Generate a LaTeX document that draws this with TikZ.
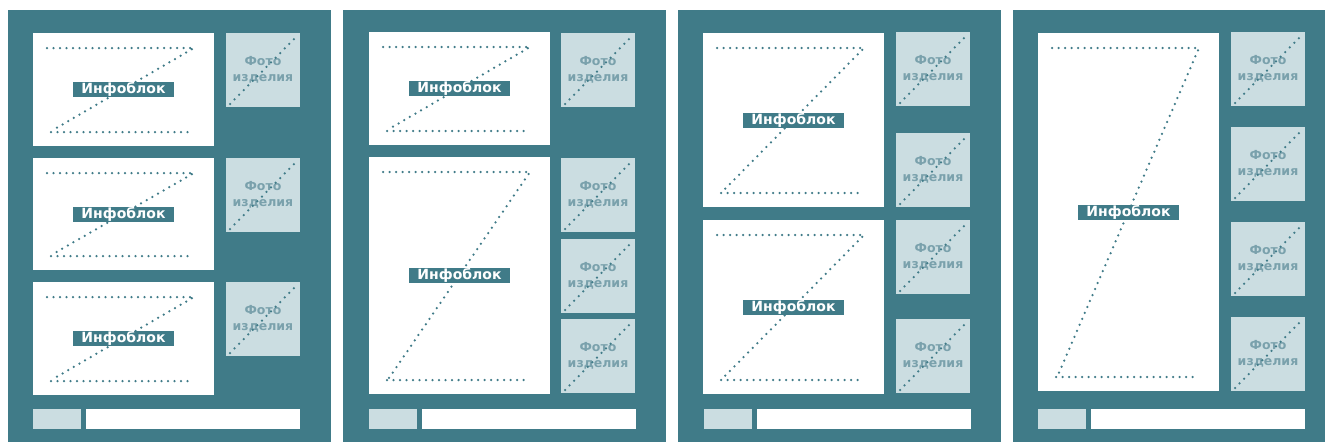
\documentclass[tikz,border=0pt]{standalone}
\usepackage{fontspec}
\setmainfont{DejaVu Sans}[BoldFont={DejaVu Sans Bold}]
\usepackage{tikz}
\definecolor{panelteal}{RGB}{64,123,136}
\definecolor{photobg}{RGB}{203,221,225}
\definecolor{phototext}{RGB}{122,161,172}

% Инфоблок: имя, лево, верх, право, низ
\newcommand{\infoblock}[5]{%
  \fill[white] (#2,#3) rectangle (#4,#5);
  \draw[zdots] (#2+14,#3+15) -- (#4-20,#3+15) -- (#2+20,#5-16);
  \draw[zdots] (#2+18,#5-14) -- (#4-20,#5-14);
  \node[infolabel] (#1) at ({(#2+#4)/2},{(#3+#5)/2}) {Инфоблок};
}
% Фото изделия: имя, лево, верх, право, низ
\newcommand{\photo}[5]{%
  \fill[photobg] (#2,#3) rectangle (#4,#5);
  \node[phototitle] (#1) at ({(#2+#4)/2},{(#3+#5)/2}) {Фото\\изделия};
  \draw[zdots] (#2+4,#5-3) -- (#4-3,#3+3);
}

\begin{document}
\begin{tikzpicture}[x=1pt,y=-1pt,
    zdots/.style={panelteal, line width=2.5pt, line cap=round, dash pattern=on 0pt off 6.5pt},
    infolabel/.style={fill=panelteal, text=white, font=\bfseries\fontsize{14}{16}\selectfont,
      inner xsep=8pt, inner ysep=1pt, text height=10.5pt, text depth=2.5pt},
    phototitle/.style={text=phototext, align=center, font=\bfseries\fontsize{12.5}{16}\selectfont}]
  \useasboundingbox (0,0) rectangle (1325,442);
  % Фон панелей
  \fill[panelteal] (8,10) rectangle (331,442);
  \fill[panelteal] (343,10) rectangle (666,442);
  \fill[panelteal] (678,10) rectangle (1001,442);
  \fill[panelteal] (1013,10) rectangle (1325,442);
  % Панель 1
  \infoblock{ibA1}{33}{33}{214}{146}
  \infoblock{ibA2}{33}{158}{214}{270}
  \infoblock{ibA3}{33}{282}{214}{395}
  \photo{phA1}{226}{33}{300}{107}
  \photo{phA2}{226}{158}{300}{232}
  \photo{phA3}{226}{282}{300}{356}
  % Панель 2
  \infoblock{ibB1}{369}{32}{550}{145}
  \infoblock{ibB2}{369}{157}{550}{394}
  \photo{phB1}{561}{33}{635}{107}
  \photo{phB2}{561}{158}{635}{232}
  \photo{phB3}{561}{239}{635}{313}
  \photo{phB4}{561}{319}{635}{393}
  % Панель 3
  \infoblock{ibC1}{703}{33}{884}{207}
  \infoblock{ibC2}{703}{220}{884}{394}
  \photo{phC1}{896}{32}{970}{106}
  \photo{phC2}{896}{133}{970}{207}
  \photo{phC3}{896}{220}{970}{294}
  \photo{phC4}{896}{319}{970}{393}
  % Панель 4
  \infoblock{ibD1}{1038}{33}{1219}{391}
  \photo{phD1}{1231}{32}{1305}{106}
  \photo{phD2}{1231}{127}{1305}{201}
  \photo{phD3}{1231}{222}{1305}{296}
  \photo{phD4}{1231}{317}{1305}{391}
  % Нижние полосы
  \fill[photobg] (33,409) rectangle (81,429);
  \fill[white] (86,409) rectangle (300,429);
  \fill[photobg] (369,409) rectangle (417,429);
  \fill[white] (422,409) rectangle (636,429);
  \fill[photobg] (704,409) rectangle (752,429);
  \fill[white] (757,409) rectangle (971,429);
  \fill[photobg] (1038,409) rectangle (1086,429);
  \fill[white] (1091,409) rectangle (1305,429);
\end{tikzpicture}
\end{document}
